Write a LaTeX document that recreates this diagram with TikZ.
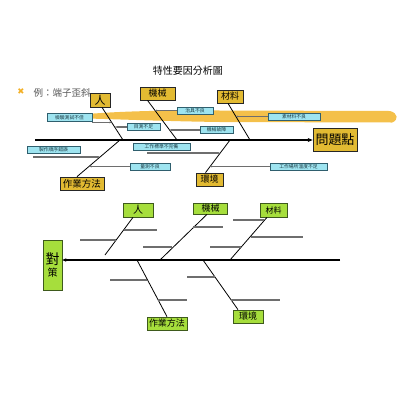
\documentclass[tikz,border=0pt]{standalone}
\usepackage{fontspec}
\setmainfont{Noto Sans CJK TC}
\newfontfamily\symfont{DejaVu Sans}
\usetikzlibrary{arrows.meta,calc}
\definecolor{goldfill}{HTML}{E2BA32}
\definecolor{cyanfill}{HTML}{9EE4F0}
\definecolor{cyanedge}{HTML}{2F5F6E}
\definecolor{greenfill}{HTML}{A6DE3C}
\definecolor{greenedge}{HTML}{3E5A1C}
\definecolor{brushcol}{HTML}{F2B52A}
\definecolor{subgray}{HTML}{6E6E6E}
\tikzset{
  goldbox/.style={draw=black!85, fill=goldfill, line width=0.7pt, inner sep=0pt, align=center},
  cyanbox/.style={draw=cyanedge, fill=cyanfill, line width=0.6pt, inner sep=0pt, font=\fontsize{4.8}{5}\selectfont, text=cyanedge!60!black},
  greenbox/.style={draw=greenedge, fill=greenfill, line width=0.7pt, inner sep=0pt, align=center},
  bone/.style={draw=black, line width=0.8pt},
  spine/.style={draw=black, line width=1.1pt},
  subline/.style={draw=subgray, line width=1.1pt},
  subtip/.style={subline, -{Latex[length=2pt,width=2pt]}},
}
\begin{document}
\begin{tikzpicture}[x=1pt,y=-1pt]
\useasboundingbox (0,0) rectangle (400,400);

% title and example line
\node (title) at (188,71) {\fontsize{10}{12}\selectfont 特性要因分析圖};
\node[text=brushcol!90!orange] (bullet) at (21,92) {\symfont\fontsize{8.5}{9}\selectfont ✖};
\node[text=black!65, anchor=west] (example) at (30,93) {\fontsize{9.5}{11}\selectfont 例：端子歪斜};

% brush highlight
\fill[brushcol, opacity=0.85] (60,117) .. controls (95,112) and (150,110) .. (220,110.5)
  -- (390,111) .. controls (398,113) and (399,120) .. (392,122.5)
  -- (220,122) .. controls (150,121) and (105,118.5) .. (60,118) -- cycle;

% ---------- top fishbone ----------
\node[goldbox, minimum width=44pt, minimum height=23pt] (wenti) at (335,140) {\fontsize{13}{14}\selectfont 問題點};
\coordinate (sp0) at (35,140);
\draw[spine, -{Stealth[length=5pt,width=4pt]}] (sp0) -- (wenti.west);

\node[goldbox, minimum width=20pt, minimum height=14pt] (ren) at (100,100) {\fontsize{11}{12}\selectfont 人};
\node[goldbox, minimum width=35pt, minimum height=13pt] (jixie) at (157.5,93.5) {\fontsize{9}{10}\selectfont 機械};
\node[goldbox, minimum width=26pt, minimum height=13pt] (cailiao) at (230,96.5) {\fontsize{9}{10}\selectfont 材料};
\node[goldbox, minimum width=44pt, minimum height=13pt] (zuoye) at (82,183.5) {\fontsize{9.5}{10}\selectfont 作業方法};
\node[goldbox, minimum width=27pt, minimum height=13pt] (huanjing) at (209.5,179.5) {\fontsize{9}{10}\selectfont 環境};

\coordinate (jren) at (123,140);
\coordinate (jjixie) at (177,140);
\coordinate (jcailiao) at (250,140);
\coordinate (jzuoye) at (120,140);
\coordinate (jhuanjing) at (230,140);
\draw[bone] ([xshift=2pt]ren.south) -- (jren);
\draw[bone] ([xshift=-10pt]jixie.south) -- (jjixie);
\draw[bone] ([xshift=-2pt]cailiao.south) -- (jcailiao);
\draw[bone] ([xshift=-5pt]zuoye.north) -- (jzuoye);
\draw[bone] ([xshift=-4pt]huanjing.north) -- (jhuanjing);

% cause labels
\node[cyanbox, minimum width=45pt, minimum height=8pt] (c1) at (69.5,117.5) {檢驗測試不佳};
\node[cyanbox, minimum width=33pt, minimum height=7pt] (c2) at (143.5,127) {目測不足};
\node[cyanbox, minimum width=36pt, minimum height=7pt] (c3) at (195,110.5) {治具不良};
\node[cyanbox, minimum width=52pt, minimum height=7pt] (c4) at (294,116.5) {素材料不良};
\node[cyanbox, minimum width=33pt, minimum height=6.5pt] (c5) at (216.5,130) {機械故障};
\node[cyanbox, minimum width=53pt, minimum height=7pt] (c6) at (53.5,150) {製作順序錯誤};
\node[cyanbox, minimum width=57pt, minimum height=7pt] (c7) at (161.5,146.5) {工作標準不完備};
\node[cyanbox, minimum width=40pt, minimum height=7pt] (c8) at (150,166.5) {量測不良};
\node[cyanbox, minimum width=57pt, minimum height=7pt] (c9) at (298.5,166.5) {工作場所溫度不足};

\coordinate (b1) at (111.5,122.5);
\coordinate (b2) at (114.7,127);
\coordinate (b3) at (155,110.5);
\coordinate (b4) at (236,116.5);
\coordinate (b5) at (169.5,130);
\coordinate (f6) at (33,157);
\coordinate (b6) at (100,157);
\coordinate (f7) at (147,153);
\coordinate (b7) at (220,153);
\coordinate (b8) at (89.5,166.5);
\coordinate (b9) at (210,166.5);

\draw[subtip] (c1.south east |- b1) -- (b1);
\draw[subtip] (c2.west) -- (b2);
\draw[subtip] (c3.west) -- (b3);
\draw[subtip] (c4.west) -- (b4);
\draw[subtip] (c5.west) -- (b5);
\draw[subtip] (f6) -- (b6);
\draw[subtip] (f7) -- (b7);
\draw[subtip] (c8.west) -- (b8);
\draw[subtip] (c9.west) -- (b9);

% ---------- bottom fishbone ----------
\node[greenbox, minimum width=19pt, minimum height=50pt] (duice) at (52.5,265) {\fontsize{14}{18}\selectfont 對\\策};
\coordinate (bsp1) at (340,260);
\draw[spine, -{Stealth[length=4pt,width=3.5pt]}] (bsp1) -- (bsp1 -| duice.east);

\node[greenbox, minimum width=30pt, minimum height=14pt] (bren) at (138,210) {\fontsize{10}{11}\selectfont 人};
\node[greenbox, minimum width=34pt, minimum height=11pt] (bjixie) at (210.5,208.5) {\fontsize{9}{10}\selectfont 機械};
\node[greenbox, minimum width=27pt, minimum height=14pt] (bcailiao) at (273.5,210) {\fontsize{8}{9}\selectfont 材料};
\node[greenbox, minimum width=40pt, minimum height=13pt] (bzuoye) at (167,323.5) {\fontsize{9}{10}\selectfont 作業方法};
\node[greenbox, minimum width=30pt, minimum height=13pt] (bhuanjing) at (248,316.5) {\fontsize{9}{10}\selectfont 環境};

\coordinate (kren) at (105,255);
\coordinate (kjixie) at (160,260);
\coordinate (kcailiao) at (230,260);
\coordinate (kzuoye) at (137,260);
\coordinate (khuanjing) at (203,260);
\draw[bone] ([xshift=-5pt]bren.south) -- (kren);
\draw[bone] ([xshift=-3.5pt]bjixie.south) -- (kjixie);
\draw[bone] ([xshift=-6.5pt]bcailiao.south) -- (kcailiao);
\draw[bone] (kzuoye) -- (bzuoye.north);
\draw[bone] (khuanjing) -- ([xshift=-10pt]bhuanjing.north);

% blank cause lines
\coordinate (e1a) at (124,230);  \coordinate (e1b) at (157,230);
\coordinate (e2a) at (80,240);   \coordinate (e2b) at (116,240);
\coordinate (e3a) at (143,247);  \coordinate (e3b) at (172,247);
\coordinate (e4a) at (193,227);  \coordinate (e4b) at (223,227);
\coordinate (e5a) at (233,220);  \coordinate (e5b) at (264,220);
\coordinate (e6a) at (251,237);  \coordinate (e6b) at (303,237);
\coordinate (e7a) at (210,247);  \coordinate (e7b) at (241,247);
\coordinate (e8a) at (110,280);  \coordinate (e8b) at (147,280);
\coordinate (e9a) at (158,300);  \coordinate (e9b) at (187,300);
\coordinate (e10a) at (187,277); \coordinate (e10b) at (215,277);
\coordinate (e11a) at (231,300); \coordinate (e11b) at (280,300);
\foreach \i in {1,...,11} { \draw[subline] (e\i a) -- (e\i b); }

\end{tikzpicture}
\end{document}
